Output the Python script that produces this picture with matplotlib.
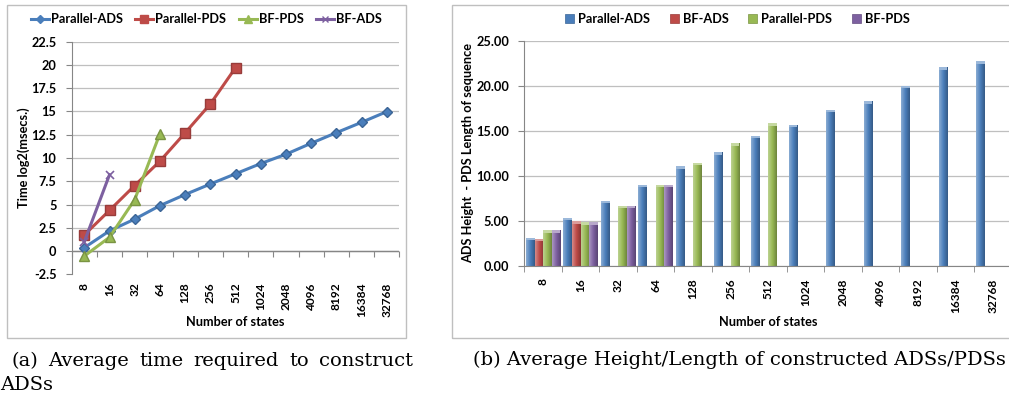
import numpy as np
import matplotlib
matplotlib.use("Agg")
import matplotlib.pyplot as plt
from matplotlib.colors import LinearSegmentedColormap, to_rgb
from matplotlib.lines import Line2D
from matplotlib.patches import Rectangle
from matplotlib.ticker import FuncFormatter

W, H = 1009, 398
plt.rcParams["font.family"] = ["Lato", "DejaVu Sans"]
plt.rcParams["font.weight"] = "bold"

states = ["8", "16", "32", "64", "128", "256", "512", "1024", "2048",
          "4096", "8192", "16384", "32768"]

# (a) construction time, log2(ms)
par_ads_time = [0.36, 2.17, 3.43, 4.88, 6.07, 7.2, 8.3, 9.4, 10.4, 11.58, 12.72, 13.83, 14.98]
par_pds_time = [1.73, 4.37, 7.04, 9.66, 12.7, 15.8, 19.7]
bf_pds_time = [-0.54, 1.48, 5.53, 12.6]
bf_ads_time = [1.0, 8.2]

# (b) ADS height / PDS length (nan = not run)
nan = np.nan
par_ads_len = [3.11, 5.33, 7.22, 9.0, 11.04, 12.6, 14.41, 15.67, 17.3, 18.27, 20.0, 22.04, 22.7]
bf_ads_len = [3.0, 4.93, nan, nan, nan, nan, nan, nan, nan, nan, nan, nan, nan]
par_pds_len = [3.93, 4.82, 6.67, 9.0, 11.41, 13.6, 15.82, nan, nan, nan, nan, nan, nan]
bf_pds_len = [3.93, 4.82, 6.67, 9.0, nan, nan, nan, nan, nan, nan, nan, nan, nan]

BLUE, RED, GREEN, PURPLE = "#4A7EBB", "#BE4B48", "#98B954", "#7D60A0"
GRID, AXC, FRAME = "#BFBFBF", "#868686", "#BFBFBF"
TFS = 9.2
XFS = 8.6


def px_rect(x0, y0, x1, y1):
    return [x0 / W, 1 - y1 / H, (x1 - x0) / W, (y1 - y0) / H]


fig = plt.figure(figsize=(W / 100, H / 100), dpi=100)

for x0, x1 in [(7, 406), (451.7, 1030)]:
    fig.add_artist(Rectangle((x0 / W, 1 - 338 / H), (x1 - x0) / W, 333 / H,
                             transform=fig.transFigure, fill=False, ec=FRAME, lw=1))


def style_axes(ax):
    for s in ("top", "right"):
        ax.spines[s].set_visible(False)
    ax.spines["left"].set_color(AXC)
    ax.spines["bottom"].set_color(AXC)
    ax.grid(axis="y", color=GRID, lw=0.9)
    ax.set_axisbelow(True)
    ax.tick_params(axis="y", length=4, color=AXC, pad=7, labelsize=TFS)
    ax.set_xticks(range(len(states)))
    ax.set_xticklabels(states, rotation=90, fontsize=XFS)


# ---- (a) line chart ----
ax1 = fig.add_axes(px_rect(71.7, 41.7, 399.3, 274.3))
style_axes(ax1)
ax1.set_xlim(-0.5, 12.5)
ax1.set_ylim(-2.5, 22.5)
ax1.set_yticks(np.arange(-2.5, 22.6, 2.5))
ax1.yaxis.set_major_formatter(FuncFormatter(lambda v, p: f"{v:g}"))
ax1.get_ygridlines()[0].set_visible(False)
ax1.spines["bottom"].set_visible(False)
ax1.tick_params(axis="x", length=0, pad=6)
ax1.axhline(0, color=AXC, lw=1, zorder=1)
sec = ax1.secondary_xaxis(0.1)
sec.set_xticks(np.arange(-0.5, 12.6, 1))
sec.tick_params(axis="x", length=4.5, color=AXC, labelbottom=False)
sec.spines["bottom"].set_visible(False)

series_a = [
    (par_ads_time, BLUE, "D", 5.5, "Parallel-ADS"),
    (par_pds_time, RED, "s", 6.5, "Parallel-PDS"),
    (bf_pds_time, GREEN, "^", 7, "BF-PDS"),
    (bf_ads_time, PURPLE, "x", 6, "BF-ADS"),
]
handles_a = []
for vals, col, mk, ms, name in series_a:
    c = np.array(to_rgb(col))
    ax1.plot(range(len(vals)), vals, color=col, lw=2.2, marker=mk, ms=ms,
             mfc=col, mec=c * 0.8 if mk != "x" else col, mew=1 if mk != "x" else 1.2,
             zorder=3)
    handles_a.append(Line2D([], [], color=col, lw=2.2, marker=mk, ms=ms - 1,
                            mfc=col, mec=col, label=name))

fig.legend(handles=handles_a, loc="center", bbox_to_anchor=(206.5 / W, 1 - 19 / H),
           ncol=4, frameon=False, fontsize=TFS, handlelength=1.4,
           handletextpad=0.15, columnspacing=1.0)
fig.text(235.5 / W, 1 - 322 / H, "Number of states", ha="center", va="center",
         fontsize=TFS)
fig.text(24 / W, 1 - 158 / H, "Time log2(msecs.)", ha="center", va="center",
         rotation=90, fontsize=TFS)

# ---- (b) bar chart ----
ax2 = fig.add_axes(px_rect(524.3, 40.7, 1012, 265.7))
style_axes(ax2)
ax2.set_xlim(-0.5, 12.5)
ax2.set_ylim(0, 25)
ax2.set_yticks(np.arange(0, 25.1, 5))
ax2.yaxis.set_major_formatter(FuncFormatter(lambda v, p: f"{v:.2f}"))
ax2.set_xticks(np.arange(-0.5, 12.6, 1), minor=True)
ax2.tick_params(axis="x", which="major", length=0, pad=9)
ax2.tick_params(axis="x", which="minor", length=4, color=AXC)

bw = 0.228
x = np.arange(len(states))
series_b = [
    (par_ads_len, BLUE, "Parallel-ADS"),
    (bf_ads_len, RED, "BF-ADS"),
    (par_pds_len, GREEN, "Parallel-PDS"),
    (bf_pds_len, PURPLE, "BF-PDS"),
]
handles_b = []
for i, (vals, col, name) in enumerate(series_b):
    vals = np.array(vals, dtype=float)
    bars = ax2.bar(x + (i - 1.5) * bw, vals, width=bw, color=col, lw=0, label=name,
                   zorder=2)
    c = np.array(to_rgb(col))
    cmap = LinearSegmentedColormap.from_list(
        name, [c + (1 - c) * 0.35, c, c * 0.72])
    for b in bars:
        h = b.get_height()
        if not np.isfinite(h) or h <= 0:
            continue
        x0 = b.get_x()
        im = ax2.imshow(np.linspace(0, 1, 32)[None, :], cmap=cmap, aspect="auto",
                        extent=[x0, x0 + bw, 0, h], zorder=2.1, interpolation="bilinear")
        im.set_clip_path(b)
        ax2.add_patch(Rectangle((x0, h - 0.25), bw, 0.25, color=c + (1 - c) * 0.45,
                                lw=0, zorder=2.2))
    handles_b.append(Rectangle((0, 0), 1, 1, fc=col, ec=c * 0.8, lw=0.5, label=name))
ax2.set_xlim(-0.5, 12.5)
ax2.set_ylim(0, 25)

fig.legend(handles=handles_b, loc="center", bbox_to_anchor=(737.5 / W, 1 - 19 / H),
           ncol=4, frameon=False, fontsize=TFS, handlelength=0.7, handleheight=0.7,
           handletextpad=0.35, columnspacing=1.5)
fig.text(768 / W, 1 - 322 / H, "Number of states", ha="center", va="center",
         fontsize=TFS)
fig.text(468 / W, 1 - 153 / H, "ADS Height  - PDS Length of sequence", ha="center",
         va="center", rotation=90, fontsize=TFS)

# ---- captions ----
cap = dict(family=["DejaVu Serif"], fontsize=14, weight="normal", va="baseline")
words = [fig.text(0, 1 - 366 / H, w, **cap)
         for w in "(a) Average time required to construct".split()]
fig.canvas.draw()
rend = fig.canvas.get_renderer()
widths = [t.get_window_extent(rend).width for t in words]
left, right = 11.7, 413
gap = (right - left - sum(widths)) / (len(words) - 1)
pos = left
for t, w in zip(words, widths):
    t.set_x(pos / W)
    pos += w + gap
fig.text(0.5 / W, 1 - 390 / H, "ADSs", **cap)
fig.text(473 / W, 1 - 365 / H, "(b) Average Height/Length of constructed ADSs/PDSs", **cap)

fig.savefig("out.png", dpi=100, facecolor="white")
